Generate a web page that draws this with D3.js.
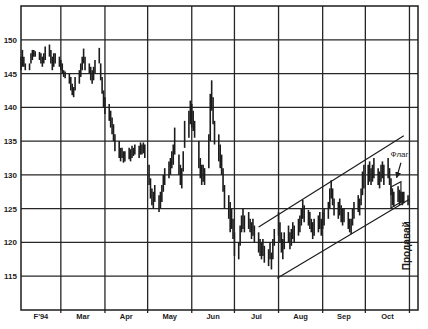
<!DOCTYPE html>
<html>
<head>
<meta charset="utf-8">
<script src="https://cdn.jsdelivr.net/npm/d3@7"></script>
<style>
  body { margin: 0; background: #fff; }
  svg { display: block; font-family: 'Liberation Sans', Arial, sans-serif; }
</style>
</head>
<body>
<div id="chart"></div>
<script>
// daily [low, high] ranges, one entry per trading day of each month (1994)
const feb = [
  [145.5, 147.5], [146, 148.5], [146, 147.5], [145.5, 146.5], [145.5, 146.5],
  [146.5, 148], [147, 148.5], [147.5, 148.5], [147.5, 148.3], [147, 148.2],
  [146.5, 148], [146, 147.5], [146.5, 148], [147, 149], [147.5, 149.3],
  [146.5, 148.5], [145.5, 147.5], [146, 148], [146.5, 148], [146, 147.5]
]
const mar = [
  [145.5, 147], [145, 146.5], [144.5, 145.5], [144.3, 145.3], [143.5, 145],
  [142.5, 144.5], [141.8, 143.5], [141.5, 143], [142.5, 144.5], [143.5, 145.5],
  [144.5, 146.5], [145.5, 147.5], [146.5, 148.7], [145.5, 147.5], [145, 146.5],
  [144, 146], [143.5, 145.5], [144, 146], [145, 147], [146.5, 148.8],
  [144, 146.5], [142, 144.5], [140, 142.5]
]
const apr = [
  [139, 141.5], [138, 140.5], [137, 139.5], [136, 138.5], [135, 137.5],
  [133.5, 136], [132.5, 135], [132, 134], [132.5, 134], [131.8, 133.5],
  [132, 133.5], [132.3, 134], [132, 133.8], [132.5, 134.3], [132.8, 134],
  [133, 134.5], [132.5, 134.3], [133, 134.8], [133, 134.5], [133.2, 134.8],
  [132.5, 134.5]
]
const may = [
  [128.5, 131.5], [126.5, 129.5], [125.5, 128], [125, 127.5], [126, 128.5],
  [124.5, 127], [125, 127.5], [126, 128.5], [127.5, 130], [128.5, 131],
  [129.5, 132], [130, 132.5], [131, 133.5], [131.5, 134.5], [133, 137],
  [130, 133], [128.5, 131.5], [128, 131], [130.5, 133.5], [134, 138],
  [135.5, 139.5], [137.5, 141]
]
const jun = [
  [137, 140.5], [136.5, 139.5], [135.5, 138], [131, 135], [129.5, 132.5],
  [128.5, 131.5], [129, 131.5], [128.5, 131], [131, 136], [135, 142],
  [139.5, 144], [137.5, 141.5], [134.5, 138], [132, 136], [131, 134.5],
  [130, 133], [127.5, 131], [125, 128.5], [123.5, 127], [121.5, 126],
  [122, 125], [120.5, 123.5]
]
const jul = [
  [118, 121.5], [117.5, 120], [119.5, 122.5], [121.5, 124], [122, 125],
  [121.5, 124], [122, 124.5], [121.5, 123.5], [120.5, 123], [121, 123.5],
  [120, 122.5], [118.5, 121.5], [118, 120.5], [117.5, 120], [118, 120.5],
  [117, 119.5], [116.5, 119], [117.5, 120], [116, 118.5], [117.5, 120.5],
  [119.5, 122]
]
const aug = [
  [121, 124.5], [120, 123], [118.5, 121.5], [117.5, 120.5], [119, 121.5],
  [120, 122.5], [119, 121.5], [119.5, 122], [120.5, 123], [120, 122.5],
  [121, 123.5], [121.5, 124], [122.5, 125], [123.5, 126.3], [123, 125.5],
  [122.5, 124.8], [122, 124.5], [121.5, 123.5], [120.5, 123], [121, 123.5],
  [121.5, 124], [122, 124.5], [121, 123.5]
]
const sep = [
  [122, 124.5], [122.5, 125], [123.5, 126], [125, 128], [126.5, 129.2],
  [125.5, 128], [124, 126.5], [123.5, 126], [124, 126.5], [123, 125.5],
  [122.5, 125], [123, 125], [122, 124.5], [121.5, 123.5], [121.2, 123.5],
  [122.5, 125], [123.5, 126], [124.5, 127], [124, 126.5], [125.5, 128],
  [127, 130.5], [128, 131.5]
]
const oct = [
  [128.5, 131.5], [129, 132], [128.5, 131], [129, 131.5], [129.5, 132.5],
  [128.5, 131], [128, 130.5], [129, 131.5], [129.5, 132], [128.5, 131.5],
  [129.5, 132.5], [128.5, 131], [127, 129.5], [125.5, 128], [125.3, 127.5],
  [126, 128.3], [125.5, 127.8], [125.8, 127.5], [125.5, 127.5], [125.8, 127.5],
  [125.5, 127]
]
const monthBars = [feb, mar, apr, may, jun, jul, aug, sep, oct]

const yTicks = [115, 120, 125, 130, 135, 140, 145, 150]
const monthLabels = ['F\'94', 'Mar', 'Apr', 'May', 'Jun', 'Jul', 'Aug', 'Sep', 'Oct']

// hand-drawn annotations: [date, price]
const channelUpper = [['1994-07-18', 122.3], ['1994-10-28', 135.8]]
const channelLower = [['1994-07-31', 114.7], ['1994-11-01', 126.4]]
const flagOutline = [
  ['1994-10-19', 128.2], ['1994-10-26', 129.0],
  ['1994-10-26', 126.0], ['1994-10-19', 125.1]
]
const flagArrow = [['1994-10-26', 131.8], ['1994-10-23', 129.6]]
const flagLabel = ['1994-10-25', 132.6, 'Флаг']
const sellLabel = ['1994-11-01', 119.5, 'Продавай']

const width = 428
const height = 329
const plot = {left: 21, right: 418, top: 6, bottom: 310}
const ink = '#1c1c1c'

const parseDay = d3.timeParse('%Y-%m-%d')

// walk the weekdays of each month and pair them with the bars
const bars = []
monthBars.forEach((list, i) => {
  const start = new Date(1994, i + 1, 1)
  const end = new Date(1994, i + 2, 1)
  const days = d3.timeDay.range(start, end)
    .filter(d => d.getDay() !== 0 && d.getDay() !== 6)
  list.forEach((r, j) => {
    bars.push({date: days[j], low: r[0], high: r[1]})
  })
})

const x = d3.scaleTime()
  .domain([new Date(1994, 1, 1), new Date(1994, 10, 7)])
  .range([plot.left, plot.right])

const y = d3.scaleLinear()
  .domain([110, 155])
  .range([plot.bottom, plot.top])

const svg = d3.select('#chart').append('svg')
  .attr('width', width)
  .attr('height', height)

svg.append('rect')
  .attr('width', width)
  .attr('height', height)
  .attr('fill', '#fff')

// horizontal grid
svg.append('g')
  .selectAll('line')
  .data(yTicks)
  .join('line')
  .attr('x1', plot.left)
  .attr('x2', plot.right)
  .attr('y1', d => y(d))
  .attr('y2', d => y(d))
  .attr('stroke', '#262626')
  .attr('stroke-width', 1.3)

// vertical grid at month boundaries
const monthStarts = d3.timeMonth.range(new Date(1994, 2, 1), new Date(1994, 10, 2))
svg.append('g')
  .selectAll('line')
  .data(monthStarts)
  .join('line')
  .attr('x1', d => x(d))
  .attr('x2', d => x(d))
  .attr('y1', plot.top)
  .attr('y2', plot.bottom + 3)
  .attr('stroke', '#262626')
  .attr('stroke-width', 1.3)

// frame
svg.append('rect')
  .attr('x', plot.left)
  .attr('y', plot.top)
  .attr('width', plot.right - plot.left)
  .attr('height', plot.bottom - plot.top)
  .attr('fill', 'none')
  .attr('stroke', ink)
  .attr('stroke-width', 1.5)

// y labels
svg.append('g')
  .selectAll('text')
  .data(yTicks)
  .join('text')
  .attr('x', 17)
  .attr('y', d => y(d) + 3)
  .attr('text-anchor', 'end')
  .attr('font-size', 8)
  .attr('font-weight', 'bold')
  .attr('fill', ink)
  .text(d => d)

// x labels, centred in each month
const monthMids = d3.timeMonth.range(new Date(1994, 1, 1), new Date(1994, 10, 1))
  .map(d => new Date((+d + +d3.timeMonth.offset(d, 1)) / 2))
svg.append('g')
  .selectAll('text')
  .data(monthLabels)
  .join('text')
  .attr('x', (d, i) => x(monthMids[i]))
  .attr('y', 319)
  .attr('text-anchor', 'middle')
  .attr('font-size', 7.5)
  .attr('font-weight', 'bold')
  .attr('fill', ink)
  .text(d => d)

// daily bars
svg.append('g')
  .selectAll('line')
  .data(bars)
  .join('line')
  .attr('x1', d => x(d.date))
  .attr('x2', d => x(d.date))
  .attr('y1', d => y(d.low))
  .attr('y2', d => y(d.high))
  .attr('stroke', ink)
  .attr('stroke-width', 1.6)

const pt = d => [x(parseDay(d[0])), y(d[1])]
const line = d3.line()

// trend channel
;[channelUpper, channelLower].forEach(seg => {
  svg.append('path')
    .attr('d', line(seg.map(pt)))
    .attr('fill', 'none')
    .attr('stroke', ink)
    .attr('stroke-width', 1.2)
})

// flag
svg.append('path')
  .attr('d', line(flagOutline.map(pt)) + 'Z')
  .attr('fill', 'none')
  .attr('stroke', ink)
  .attr('stroke-width', 1.2)

svg.append('defs').append('marker')
  .attr('id', 'head')
  .attr('viewBox', '0 0 10 10')
  .attr('refX', 9)
  .attr('refY', 5)
  .attr('markerWidth', 5)
  .attr('markerHeight', 5)
  .attr('orient', 'auto')
  .append('path')
  .attr('d', 'M0,0L10,5L0,10Z')
  .attr('fill', ink)

svg.append('path')
  .attr('d', line(flagArrow.map(pt)))
  .attr('stroke', ink)
  .attr('stroke-width', 1.2)
  .attr('marker-end', 'url(#head)')

const fl = pt(flagLabel)
svg.append('text')
  .attr('x', fl[0])
  .attr('y', fl[1])
  .attr('text-anchor', 'middle')
  .attr('font-size', 8)
  .attr('fill', ink)
  .text(flagLabel[2])

const sl = pt(sellLabel)
svg.append('text')
  .attr('transform', `translate(${sl[0] - 3},${sl[1]}) rotate(-90)`)
  .attr('text-anchor', 'middle')
  .attr('dy', '0.35em')
  .attr('font-size', 10)
  .attr('font-weight', 'bold')
  .attr('fill', ink)
  .text(sellLabel[2])
</script>
</body>
</html>
